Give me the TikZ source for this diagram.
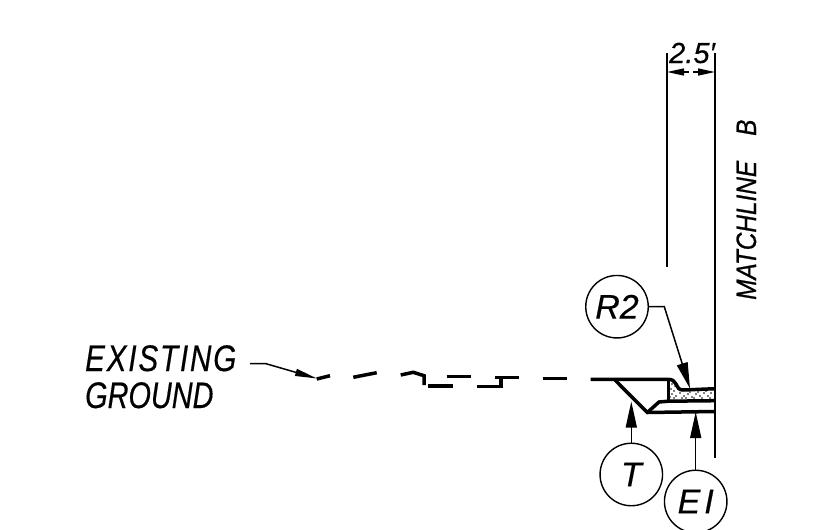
\documentclass[tikz,border=0pt]{standalone}
\usepackage{fontspec}
\setmainfont{Liberation Sans}
\newfontfamily\cadfont[FakeStretch=1.0,FakeBold=0.4,Ligatures=NoCommon]{Liberation Sans}
\newfontfamily\cadmatch[FakeStretch=0.87,FakeBold=0.7,Ligatures=NoCommon]{Liberation Sans}
\newfontfamily\cadwide[FakeStretch=0.8,FakeBold=0.4,LetterSpace=5,Ligatures=NoCommon]{Liberation Sans}
\newfontfamily\cadtall[FakeStretch=0.78,FakeBold=0.4,Ligatures=NoCommon]{Liberation Sans}
\usetikzlibrary{arrows.meta}
\tikzset{
  thinline/.style={line width=1.5pt,black},
  thickline/.style={line width=3.5pt,black,line cap=butt,line join=miter},
  balloon/.style={circle,draw,line width=1.4pt,minimum size=62.5pt,inner sep=0pt,font=\cadfont\itshape\fontsize{34}{34}\selectfont},
  bighead/.style={-{Triangle[length=26pt,width=11pt]}},
  dimhead/.style={-{Triangle[length=17pt,width=7pt]}},
  label/.style={inner sep=0pt,anchor=base west},
}
\begin{document}
\begin{tikzpicture}[x=1pt,y=-1pt]
\path[use as bounding box,fill=white] (0,0) rectangle (830,530);
\clip (0,0) rectangle (830,530);
% reference lines
\coordinate (extLT) at (667,53);
\coordinate (extLB) at (667,267);
\coordinate (extRT) at (715,53);
\coordinate (extRB) at (715,458);
\draw[thinline] (extLT) -- (extLB);
\draw[thinline] (extRT) -- (extRB);
\coordinate (dimL) at (667,72);
\coordinate (dimR) at (715,72);
\coordinate (dimCL) at (689,72);
\coordinate (dimCR) at (693,72);
\draw[thinline,dimhead] (dimCL) -- (dimL);
\draw[thinline,dimhead] (dimCR) -- (dimR);
\node[label] (dimtext) at (669,63) {\cadfont\itshape\fontsize{29}{29}\selectfont 2.5′};
\node[inner sep=0pt,anchor=base west,rotate=90] (match) at (756,300) {\cadmatch\itshape\fontsize{28}{28}\selectfont MATCHLINE};
\node[inner sep=0pt,anchor=base west,rotate=90] (matchb) at (756,136) {\cadmatch\itshape\fontsize{28}{28}\selectfont B};
% existing ground text
\node[label] (existing) at (85,371) {\cadwide\itshape\fontsize{37}{37}\selectfont EXISTING};
\node[label] (ground) at (85,408) {\cadtall\itshape\fontsize{37}{37}\selectfont GROUND};
% leader
\coordinate (gl0) at (250,363.7);
\coordinate (gl1) at (266,363.7);
\coordinate (gl2) at (317,378.5);
\draw[thinline,-{Triangle[length=22pt,width=7pt]}] (gl0) -- (gl1) -- (gl2);
% broken ground line
\draw[thickline] (316.7,379) -- (330,375.7);
\draw[thickline] (353.3,377.3) -- (376.7,372.7);
\draw[thickline] (400.7,375) -- (413.3,372.3) -- (424,375.7) -- (424,385);
\draw[thickline] (428.3,386) -- (452.7,386);
\draw[thickline] (446.7,376.3) -- (470.7,376.3);
\draw[thickline] (476.7,386.7) -- (501,386.7) -- (501,378);
\draw[thickline] (495,377.7) -- (519,377.7);
\draw[thickline] (542.7,378.7) -- (566.7,378.7);
% road section
\draw[thickline] (590.7,379.3) -- (668,379.3) .. controls (673,379.5) and (674,381) .. (676,384) .. controls (678,388) and (679,390) .. (683,390) -- (715,388.7);
\draw[thickline] (615,380) -- (647.3,412.5) -- (715,411.5);
\draw[thickline] (647.3,412.5) -- (659,402) -- (668.3,401.2) -- (715,400.7);
\draw[line width=2.6pt] (668.3,380) -- (668.3,401);
\draw[line width=2.6pt] (715,389) -- (715,412);
% concrete dots
\foreach \x/\y in {672/384,675/386,671/389,674/391,678/389,672/394,676/396,670/397,680/393,684/396,688/394,692/397,696/394,700/396,704/393,708/396,711/393,686/398,694/398,702/398,710/398,682/398,674/398,698/392,690/392,706/391}
  \fill (\x,\y) circle (0.9pt);
% balloons
\node[balloon] (r2) at (617,306.7) {R2};
\node[balloon] (t) at (631.3,474.5) {\raisebox{-1pt}{T}};
\node[balloon] (ei) at (695.7,501.5) {\raisebox{-3pt}{E\hspace{4pt}I}};
\coordinate (r2bend) at (664.3,306.7);
\coordinate (r2tip) at (690,388.5);
\coordinate (ttip) at (631.3,401.5);
\coordinate (eitip) at (695.7,412);
\draw[thinline,bighead] (r2.east) -- (r2bend) -- (r2tip);
\draw[thinline,bighead] (t.north) -- (ttip);
\draw[thinline,bighead] (ei.north) -- (eitip);
\end{tikzpicture}
\end{document}
